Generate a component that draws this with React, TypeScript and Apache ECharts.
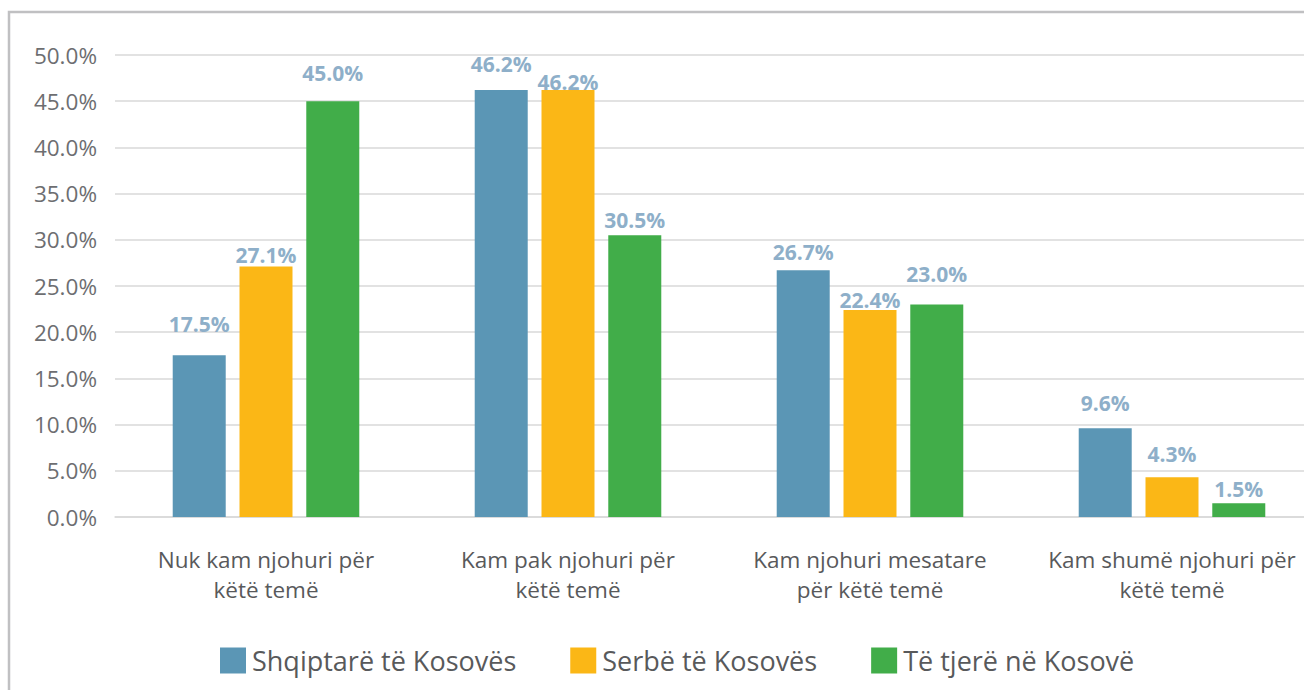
import React, { useEffect, useRef } from "react";
import * as echarts from "echarts";

const categories = [
  "Nuk kam njohuri për\nkëtë temë",
  "Kam pak njohuri për\nkëtë temë",
  "Kam njohuri mesatare\npër këtë temë",
  "Kam shumë njohuri për\nkëtë temë",
];
const seriesNames = ["Shqiptarë të Kosovës", "Serbë të Kosovës", "Të tjerë në Kosovë"];
const albanians = [17.5, 46.2, 26.7, 9.6];
const serbs = [27.1, 46.2, 22.4, 4.3];
const others = [45.0, 30.5, 23.0, 1.5];
const colors = ["#5B96B5", "#FBB716", "#41AD49"];

// distance (px) between each value label and its bar top, as placed in the reference
const labelGaps = [
  [21, 16, 8, 15],
  [1, -2, 0, 13],
  [18, 5, 20, 4],
];

const FONT = "'Open Sans', 'Noto Sans', sans-serif";

export default function App() {
  const ref = useRef<HTMLDivElement>(null);
  useEffect(() => {
    if (!ref.current) return;
    const chart = echarts.init(ref.current, undefined, { renderer: "svg" });
    const values = [albanians, serbs, others];
    chart.setOption({
      animation: false,
      backgroundColor: "#ffffff",
      textStyle: { fontFamily: FONT },
      graphic: [
        {
          type: "rect",
          shape: { x: 9, y: 12, width: 1310, height: 700 },
          style: { fill: "none", stroke: "#c0c0c2", lineWidth: 2.5 },
          silent: true,
        },
      ],
      grid: {
        left: 115,
        width: 1208,
        top: 55,
        bottom: 173,
        containLabel: false,
        outerBoundsMode: "none",
      },
      legend: {
        left: 215,
        top: 642,
        itemWidth: 26,
        itemHeight: 26,
        itemGap: 54,
        icon: "rect",
        textStyle: { fontSize: 27, color: "#58595b", fontFamily: FONT, padding: [0, 0, 0, 1] },
        data: seriesNames,
      },
      xAxis: {
        type: "category",
        data: categories,
        axisTick: { show: false },
        axisLine: { show: true, lineStyle: { color: "#d9d9d9", width: 1.5 } },
        axisLabel: {
          interval: 0,
          fontSize: 22.5,
          color: "#58595b",
          lineHeight: 30,
          margin: 27,
          fontFamily: FONT,
        },
      },
      yAxis: {
        type: "value",
        min: 0,
        max: 50,
        interval: 5,
        axisLine: { show: false },
        axisTick: { show: false },
        splitLine: { lineStyle: { color: "#d9d9d9", width: 1.5 } },
        axisLabel: {
          fontSize: 22.5,
          color: "#6d6e71",
          margin: 18,
          fontFamily: FONT,
          formatter: (v: number) => v.toFixed(1) + "%",
        },
      },
      series: seriesNames.map((name, i) => ({
        name,
        type: "bar",
        data: values[i].map((v, j) => ({
          value: v,
          label: { distance: labelGaps[i][j] },
        })),
        barWidth: 53,
        barGap: "26%",
        itemStyle: { color: colors[i] },
        label: {
          show: true,
          position: "top",
          distance: 15,
          fontSize: 21,
          fontWeight: "bold",
          color: "#8EAFC9",
          fontFamily: FONT,
          formatter: (p: any) => Number(p.value).toFixed(1) + "%",
        },
      })),
    });
    return () => chart.dispose();
  }, []);
  return (
    <div
      ref={ref}
      style={{ position: "absolute", left: 0, top: 0, width: 1304, height: 690 }}
    />
  );
}
